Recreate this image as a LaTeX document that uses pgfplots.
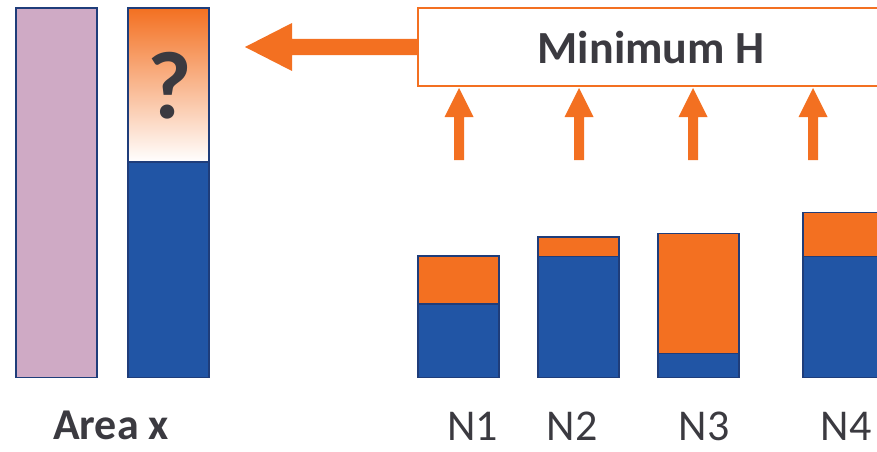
\documentclass[border=0pt]{standalone}
\usepackage{pgfplots}
\pgfplotsset{compat=1.18}
\usepackage{fontspec}
\setmainfont{Carlito}
\definecolor{pinkC}{HTML}{CFAAC5}
\definecolor{blueC}{HTML}{2155A5}
\definecolor{edgeC}{HTML}{1F3D7A}
\definecolor{orangeC}{HTML}{F37021}
\definecolor{textC}{HTML}{3B3A40}
\begin{document}
\begin{tikzpicture}
\useasboundingbox (0,0) rectangle (877pt,451pt);
\begin{axis}[at={(0,0)}, anchor=south west, scale only axis,
  width=877pt, height=451pt, xmin=0, xmax=877, ymin=-73.5, ymax=377.5,
  hide axis, clip=true]
% pink reference bar
\addplot[ybar, bar width=81, bar shift=0pt, fill=pinkC, draw=edgeC, line width=1.3pt]
  coordinates {(56.5,369.5)};
% totals (orange part shows above blue)
\addplot[ybar, bar width=81, bar shift=0pt, fill=orangeC, draw=edgeC, line width=1.3pt]
  coordinates {(458.5,121.5) (578.5,140.5) (698.5,144) (843.5,165)};
% blue parts
\addplot[ybar, bar width=81, bar shift=0pt, fill=blueC, draw=edgeC, line width=1.3pt]
  coordinates {(168.5,215.5) (458.5,73.5) (578.5,121) (698.5,24) (843.5,121)};
% unknown gradient segment
\addplot[draw=edgeC, line width=1.3pt, top color=orangeC, bottom color=white]
  coordinates {(128,215.5) (209,215.5) (209,369.5) (128,369.5)} -- cycle;
% Minimum H box
\draw[orangeC, line width=1.2pt, fill=white] (axis cs:880,369.5) -- (axis cs:418,369.5) -- (axis cs:418,291.5) -- (axis cs:880,291.5);
% left arrow
\fill[orangeC] (axis cs:418,338.5) -- (axis cs:292,338.5) -- (axis cs:292,354.5) -- (axis cs:245,330.5) -- (axis cs:292,306.5) -- (axis cs:292,322.5) -- (axis cs:418,322.5) -- cycle;
% up arrows
\fill[orangeC] (axis cs:454,217.5) -- (axis cs:454,260.5) -- (axis cs:444.5,260.5) -- (axis cs:459,289.5) -- (axis cs:473.5,260.5) -- (axis cs:464,260.5) -- (axis cs:464,217.5) -- cycle;
\fill[orangeC] (axis cs:574,217.5) -- (axis cs:574,260.5) -- (axis cs:564.5,260.5) -- (axis cs:579,289.5) -- (axis cs:593.5,260.5) -- (axis cs:584,260.5) -- (axis cs:584,217.5) -- cycle;
\fill[orangeC] (axis cs:688,217.5) -- (axis cs:688,260.5) -- (axis cs:678.5,260.5) -- (axis cs:693,289.5) -- (axis cs:707.5,260.5) -- (axis cs:698,260.5) -- (axis cs:698,217.5) -- cycle;
\fill[orangeC] (axis cs:808,217.5) -- (axis cs:808,260.5) -- (axis cs:798.5,260.5) -- (axis cs:813,289.5) -- (axis cs:827.5,260.5) -- (axis cs:818,260.5) -- (axis cs:818,217.5) -- cycle;
\node[font=\bfseries\fontsize{46}{50}\selectfont, text=textC, anchor=base, inner sep=0pt] at (axis cs:651,314.5) {Minimum H};
\node[font=\bfseries\fontsize{96}{100}\selectfont, text=textC, anchor=base, inner sep=0pt] at (axis cs:169.5,259.5) {?};
\node[font=\bfseries\fontsize{44}{48}\selectfont, text=textC, anchor=base, inner sep=0pt] at (axis cs:111,-62) {Area x};
\node[font=\fontsize{44}{48}\selectfont, text=textC, anchor=base, inner sep=0pt] at (axis cs:472.5,-62.5) {N1};
\node[font=\fontsize{44}{48}\selectfont, text=textC, anchor=base, inner sep=0pt] at (axis cs:572,-62.5) {N2};
\node[font=\fontsize{44}{48}\selectfont, text=textC, anchor=base, inner sep=0pt] at (axis cs:704,-62.5) {N3};
\node[font=\fontsize{44}{48}\selectfont, text=textC, anchor=base, inner sep=0pt] at (axis cs:846,-62.5) {N4};
\end{axis}
\end{tikzpicture}
\end{document}
